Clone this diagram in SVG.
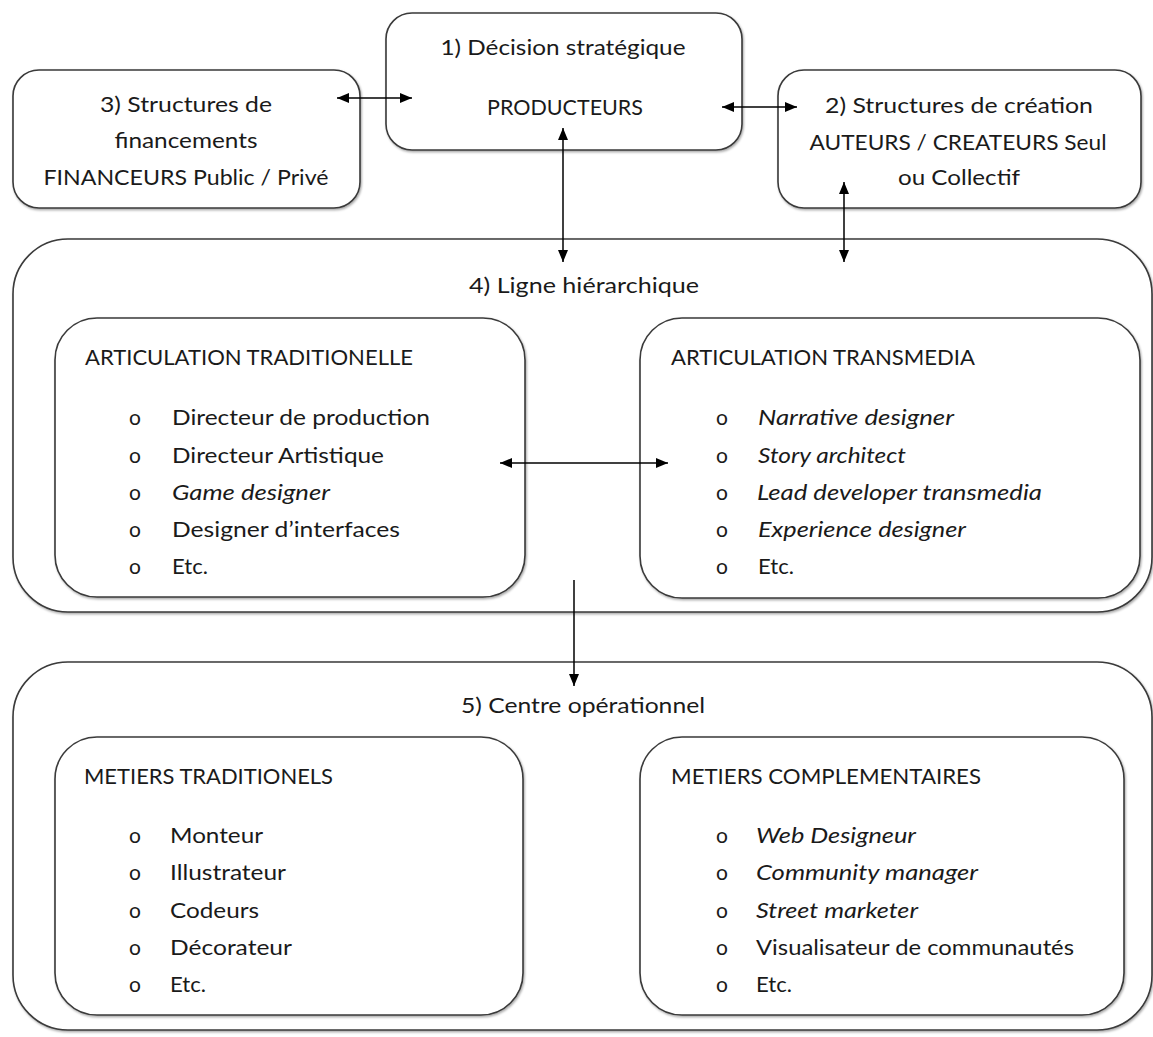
<svg xmlns="http://www.w3.org/2000/svg" width="1153" height="1037" viewBox="0 0 1153 1037">
<defs>
<marker id="ah" viewBox="0 0 12 10" refX="12" refY="5" markerWidth="12" markerHeight="10" markerUnits="userSpaceOnUse" orient="auto-start-reverse">
<path d="M0,0 L12,5 L0,10 Z" fill="#000"/>
</marker>
<filter id="sh" x="-5%" y="-5%" width="110%" height="110%">
<feDropShadow dx="1" dy="1.5" stdDeviation="0.8" flood-color="#000" flood-opacity="0.35"/>
</filter>
</defs>
<style>
.box{fill:#fff;stroke:#3a3a3a;stroke-width:1.6;filter:url(#sh)}
text{font-family:Lato,"Liberation Sans",sans-serif;font-size:21px;fill:#1a1a1a}
.c{text-anchor:middle}
.i{font-style:italic}
.con{stroke:#000;stroke-width:1.5;fill:none;marker-end:url(#ah)}
.bi{marker-start:url(#ah)}
</style>

<g id="node-4">
<rect class="box" x="13" y="239" width="1139" height="373" rx="55"/>
<text class="c" x="584" y="293" textLength="230" lengthAdjust="spacingAndGlyphs">4) Ligne hiérarchique</text>
</g>
<g id="node-4a">
<rect class="box" x="55" y="318" width="470" height="279" rx="42"/>
<text x="85" y="365" textLength="328" lengthAdjust="spacingAndGlyphs">ARTICULATION TRADITIONELLE</text>
<text x="129" y="425">o</text><text x="172" y="425" textLength="258" lengthAdjust="spacingAndGlyphs">Directeur de production</text>
<text x="129" y="463">o</text><text x="172" y="463" textLength="212" lengthAdjust="spacingAndGlyphs">Directeur Artistique</text>
<text x="129" y="500">o</text><text class="i" x="172" y="500" textLength="158" lengthAdjust="spacingAndGlyphs">Game designer</text>
<text x="129" y="537">o</text><text x="172" y="537" textLength="228" lengthAdjust="spacingAndGlyphs">Designer d’interfaces</text>
<text x="129" y="574">o</text><text x="172" y="574" textLength="36" lengthAdjust="spacingAndGlyphs">Etc.</text>
</g>
<g id="node-4b">
<rect class="box" x="640" y="318" width="500" height="280" rx="42"/>
<text x="671" y="365" textLength="304" lengthAdjust="spacingAndGlyphs">ARTICULATION TRANSMEDIA</text>
<text x="716" y="425">o</text><text class="i" x="758" y="425" textLength="196" lengthAdjust="spacingAndGlyphs">Narrative designer</text>
<text x="716" y="463">o</text><text class="i" x="758" y="463" textLength="148" lengthAdjust="spacingAndGlyphs">Story architect</text>
<text x="716" y="500">o</text><text class="i" x="757" y="500" textLength="285" lengthAdjust="spacingAndGlyphs">Lead developer transmedia</text>
<text x="716" y="537">o</text><text class="i" x="758" y="537" textLength="208" lengthAdjust="spacingAndGlyphs">Experience designer</text>
<text x="716" y="574">o</text><text x="758" y="574" textLength="36" lengthAdjust="spacingAndGlyphs">Etc.</text>
</g>

<g id="node-5">
<rect class="box" x="13" y="662" width="1139" height="368" rx="55"/>
<text class="c" x="583" y="713" textLength="244" lengthAdjust="spacingAndGlyphs">5) Centre opérationnel</text>
</g>
<g id="node-5a">
<rect class="box" x="55" y="737" width="468" height="278" rx="42"/>
<text x="84" y="784" textLength="249" lengthAdjust="spacingAndGlyphs">METIERS TRADITIONELS</text>
<text x="129" y="843">o</text><text x="170" y="843" textLength="93" lengthAdjust="spacingAndGlyphs">Monteur</text>
<text x="129" y="880">o</text><text x="170" y="880" textLength="116" lengthAdjust="spacingAndGlyphs">Illustrateur</text>
<text x="129" y="918">o</text><text x="170" y="918" textLength="89" lengthAdjust="spacingAndGlyphs">Codeurs</text>
<text x="129" y="955">o</text><text x="170" y="955" textLength="122" lengthAdjust="spacingAndGlyphs">Décorateur</text>
<text x="129" y="992">o</text><text x="170" y="992" textLength="36" lengthAdjust="spacingAndGlyphs">Etc.</text>
</g>
<g id="node-5b">
<rect class="box" x="640" y="737" width="484" height="278" rx="42"/>
<text x="671" y="784" textLength="310" lengthAdjust="spacingAndGlyphs">METIERS COMPLEMENTAIRES</text>
<text x="716" y="843">o</text><text class="i" x="756" y="843" textLength="160" lengthAdjust="spacingAndGlyphs">Web Designeur</text>
<text x="716" y="880">o</text><text class="i" x="756" y="880" textLength="222" lengthAdjust="spacingAndGlyphs">Community manager</text>
<text x="716" y="918">o</text><text class="i" x="756" y="918" textLength="162" lengthAdjust="spacingAndGlyphs">Street marketer</text>
<text x="716" y="955">o</text><text x="756" y="955" textLength="318" lengthAdjust="spacingAndGlyphs">Visualisateur de communautés</text>
<text x="716" y="992">o</text><text x="756" y="992" textLength="36" lengthAdjust="spacingAndGlyphs">Etc.</text>
</g>

<g id="node-1">
<rect class="box" x="386" y="13" width="356" height="137" rx="26"/>
<text class="c" x="563" y="55" textLength="245" lengthAdjust="spacingAndGlyphs">1) Décision stratégique</text>
<text class="c" x="565" y="115" textLength="156" lengthAdjust="spacingAndGlyphs">PRODUCTEURS</text>
</g>
<g id="node-3">
<rect class="box" x="13" y="70" width="347" height="138" rx="26"/>
<text class="c" x="186" y="112" textLength="172" lengthAdjust="spacingAndGlyphs">3) Structures de</text>
<text class="c" x="186" y="148" textLength="143" lengthAdjust="spacingAndGlyphs">financements</text>
<text class="c" x="186" y="185" textLength="285" lengthAdjust="spacingAndGlyphs">FINANCEURS Public / Privé</text>
</g>
<g id="node-2">
<rect class="box" x="778" y="70" width="363" height="138" rx="26"/>
<text class="c" x="959" y="113" textLength="268" lengthAdjust="spacingAndGlyphs">2) Structures de création</text>
<text class="c" x="958" y="150" textLength="297" lengthAdjust="spacingAndGlyphs">AUTEURS / CREATEURS Seul</text>
<text class="c" x="959" y="185" textLength="122" lengthAdjust="spacingAndGlyphs">ou Collectif</text>
</g>

<g id="connectors">
<line class="con bi" x1="337" y1="98" x2="412" y2="98"/>
<line class="con bi" x1="722" y1="107" x2="797" y2="107"/>
<line class="con bi" x1="563" y1="128" x2="563" y2="262"/>
<line class="con bi" x1="844" y1="182" x2="844" y2="262"/>
<line class="con bi" x1="500" y1="463" x2="668" y2="463"/>
<line class="con" x1="574" y1="580" x2="574" y2="686"/>
</g>
</svg>
